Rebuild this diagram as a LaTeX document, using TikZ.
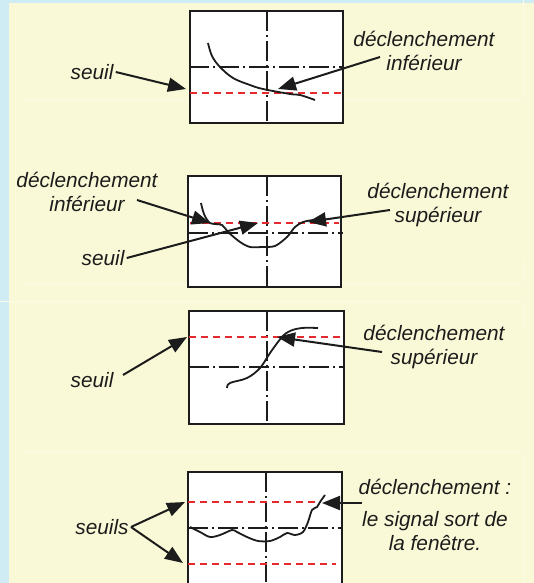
\documentclass[tikz,border=0pt]{standalone}
\usepackage{fontspec}
\setmainfont{Liberation Sans}
\usepackage{tikz}
\usetikzlibrary{arrows.meta, positioning}
\definecolor{slidebg}{HTML}{FAF9D7}
\definecolor{slideside}{HTML}{CFEBF3}
\definecolor{seuilred}{HTML}{E42A2E}
\definecolor{inkblack}{HTML}{1C1C1C}

\begin{document}
\begin{tikzpicture}[
    x=0.5pt, y=-0.5pt,
    screen/.style={draw=inkblack, line width=1.2pt, fill=white, inner sep=0pt},
    axisline/.style={inkblack, line width=0.9pt, dash pattern=on 10pt off 2pt on 1pt off 2pt},
    level/.style={seuilred, line width=1pt, dash pattern=on 3.5pt off 2.5pt},
    signal/.style={inkblack, line width=0.9pt},
    pointer/.style={-{Triangle[length=9pt, width=7pt]}, line width=1pt, inkblack},
    lbl/.style={font=\fontsize{10.4}{12}\selectfont\itshape, align=center, inner sep=1pt, text=inkblack},
    panelframe/.style={draw=white!35!slidebg, line width=0.5pt},
]
    % Background
    \useasboundingbox (0,0) rectangle (534,583);
    \clip (0,0) rectangle (534,583);
    \fill[slideside] (0,0) rectangle (534,583);
    \fill[slidebg] (9,3) rectangle (534,583);
    \draw[panelframe] (21,100) -- (523,100) -- (523,-5);
    \draw[panelframe] (21,283) -- (523,283) -- (523,260);
    \draw[panelframe] (0,301) -- (523,301) -- (523,330);
    \draw[panelframe] (21,452) -- (523,452) -- (523,600);

    % Panel 1: lower trigger
    \node[screen, minimum width=76.5pt, minimum height=56pt] (box1) at (266.5,67) {};
    \draw[axisline] (267,11) -- (267,123);
    \draw[axisline] (box1.west) -- (box1.east);
    \draw[level] (190,93) -- (343,93);
    \draw[signal] plot[smooth, tension=0.6] coordinates {(208,43) (212,56) (220,67) (233,78) (250,85) (263,89) (290,94) (300,95) (315,100)};
    \node[lbl] (seuil1) at (92,72) {seuil};
    \node[lbl] (dinf1) at (424,51) {déclenchement\\inférieur};
    \coordinate (t1a) at (186,89);
    \coordinate (s1b) at (380,57);
    \coordinate (t1b) at (278,89);
    \draw[pointer] (seuil1.east) -- (t1a);
    \draw[pointer] (s1b) -- (t1b);

    % Panel 2: lower and upper trigger
    \node[screen, minimum width=76.5pt, minimum height=55.5pt] (box2) at (264.5,231.5) {};
    \draw[axisline] (267,176) -- (267,287);
    \draw[axisline] (188,233) -- (343,233);
    \draw[level] (190,223) -- (339,223);
    \draw[signal] plot[smooth, tension=0.5] coordinates {(201,203) (204,214) (210,223) (222,225) (228,232) (240,242) (250,247) (262,247) (275,246) (287,237) (295,227) (303,222) (313,220)};
    \node[lbl] (dinf2) at (87,192) {déclenchement\\inférieur};
    \node[lbl] (seuil2) at (103,258) {seuil};
    \node[lbl] (dsup2) at (438,205) {déclenchement\\supérieur};
    \coordinate (s2a) at (137,200);
    \coordinate (t2a) at (210,223);
    \coordinate (t2b) at (258,223);
    \coordinate (s2c) at (390,210);
    \coordinate (t2c) at (308,222);
    \draw[pointer] (s2a) -- (t2a);
    \draw[pointer] (seuil2.east) -- (t2b);
    \draw[pointer] (s2c) -- (t2c);

    % Panel 3: upper trigger
    \node[screen, minimum width=77.5pt, minimum height=56.5pt] (box3) at (266.5,367.5) {};
    \draw[axisline] (267,311) -- (267,424);
    \draw[axisline] (189,367) -- (344,367);
    \draw[level] (189,337) -- (344,337);
    \draw[signal] plot[smooth, tension=0.6] coordinates {(227,388) (230,383) (247,378) (260,368) (270,353) (282,337) (290,331) (302,328) (318,328)};
    \node[lbl] (seuil3) at (92,380) {seuil};
    \node[lbl] (dsup3) at (434,347) {déclenchement\\supérieur};
    \coordinate (s3a) at (123,375);
    \coordinate (t3a) at (187,337);
    \coordinate (s3b) at (382,352);
    \coordinate (t3b) at (277,337);
    \draw[pointer] (s3a) -- (t3a);
    \draw[pointer] (s3b) -- (t3b);

    % Panel 4: window trigger
    \node[screen, minimum width=77pt, minimum height=70pt] (box4) at (265,542) {};
    \draw[axisline] (266,472) -- (266,612);
    \draw[axisline] (188,528) -- (343,528);
    \draw[level] (188,502) -- (321,502);
    \draw[level] (188,564) -- (336,564);
    \draw[signal] plot[smooth, tension=0.5] coordinates {(190,527) (200,532) (210,537) (220,535) (232,530) (237,532) (247,537) (258,541) (270,541) (280,537) (287,533) (295,535) (303,532) (308,522) (312,510) (317,507) (320,502) (325,495)};
    \node[lbl] (seuils4) at (102,527) {seuils};
    \node[lbl] (dwin4) at (435,487) {déclenchement :};
    \node[lbl] (dsort4) at (435,531) {le signal sort de\\la fenêtre.};
    \coordinate (t4a) at (185,502);
    \coordinate (t4b) at (183,563);
    \coordinate (s4c) at (362,503);
    \coordinate (t4c) at (322,503);
    \draw[pointer] (seuils4.east) -- (t4a);
    \draw[pointer] (seuils4.east) -- (t4b);
    \draw[pointer] (s4c) -- (t4c);
\end{tikzpicture}
\end{document}
